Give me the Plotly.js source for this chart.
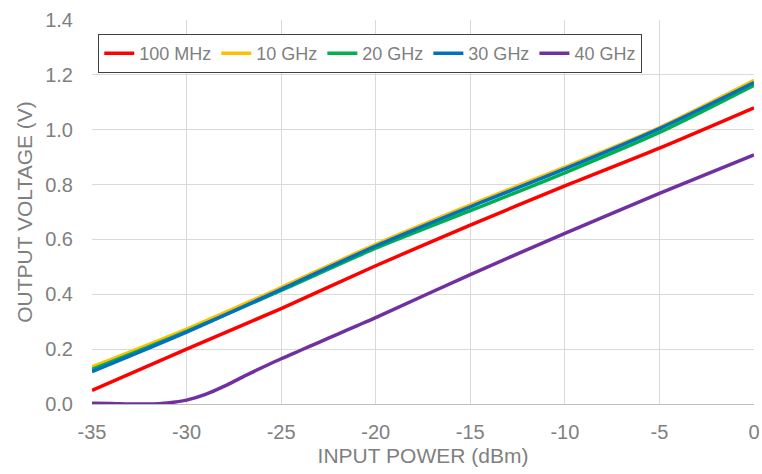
<!DOCTYPE html>
<html>
<head>
<meta charset="utf-8">
<script src="https://cdn.plot.ly/plotly-3.0.1.min.js"></script>
<style>html,body{margin:0;padding:0;background:#fff;}#chart{width:762px;height:474px;}</style>
</head>
<body>
<div id="chart"></div>
<script>
var inputPower = [-35, -30, -25, -20, -15, -10, -5, 0];
var v100MHz = [0.050, 0.200, 0.348, 0.504, 0.652, 0.795, 0.933, 1.080];
var v10GHz  = [0.135, 0.273, 0.425, 0.582, 0.726, 0.864, 1.008, 1.180];
var v20GHz  = [0.126, 0.265, 0.414, 0.568, 0.705, 0.843, 0.990, 1.162];
var v30GHz  = [0.118, 0.262, 0.418, 0.576, 0.719, 0.857, 1.004, 1.172];
var inputPower40 = [-35, -34, -33, -32, -31, -30, -29, -28, -27, -26, -25, -24, -23, -22, -21, -20, -15, -10, -5, 0];
var v40GHz = [0.003, 0.002, 0.000, 0.000, 0.004, 0.014, 0.035, 0.065, 0.100, 0.133, 0.165, 0.195, 0.225, 0.255, 0.285, 0.315, 0.472, 0.622, 0.768, 0.908];
var seriesNames = ['100 MHz', '10 GHz', '20 GHz', '30 GHz', '40 GHz'];
var seriesColors = ['#FF0000', '#FFC000', '#00B050', '#0070C0', '#7030A0'];
var xTickVals = [-35, -30, -25, -20, -15, -10, -5, 0];
var xTickText = ['-35', '-30', '-25', '-20', '-15', '-10', '-5', '0'];

var xs = [inputPower, inputPower, inputPower, inputPower, inputPower40];
var ys = [v100MHz, v10GHz, v20GHz, v30GHz, v40GHz];
var traces = ys.map(function (y, i) {
  return {
    x: xs[i], y: y, name: seriesNames[i], type: 'scatter', mode: 'lines',
    line: {color: seriesColors[i], width: 3.5, shape: 'spline', smoothing: 0.8}
  };
});

var font = 'Liberation Sans, Arial, sans-serif';
var gray = '#7f7f7f';
var layout = {
  width: 762, height: 474,
  margin: {l: 92, r: 8, t: 20, b: 70},
  paper_bgcolor: '#ffffff', plot_bgcolor: '#ffffff',
  font: {family: font, size: 20, color: gray},
  showlegend: true,
  legend: {
    orientation: 'h', x: 0.009, y: 0.964, xanchor: 'left', yanchor: 'top',
    bgcolor: '#ffffff', bordercolor: '#404040', borderwidth: 1.3,
    font: {family: font, size: 18, color: gray}, itemwidth: 30
  },
  xaxis: {
    range: [-35, 0], tickmode: 'array', tickvals: xTickVals, ticktext: xTickText,
    showgrid: true, gridcolor: '#d9d9d9', gridwidth: 1,
    zeroline: false, showline: true, linecolor: '#bfbfbf', linewidth: 1,
    ticks: '', ticklabelstandoff: 10,
    tickfont: {family: font, size: 20, color: gray},
    title: {text: 'INPUT POWER (dBm)', font: {family: font, size: 21, color: gray}, standoff: 6}
  },
  yaxis: {
    range: [0, 1.4], dtick: 0.2, tick0: 0, tickformat: '.1f', showgrid: true, gridcolor: '#d9d9d9', gridwidth: 1,
    zeroline: false, showline: false,
    ticks: '', ticklabelstandoff: 18,
    tickfont: {family: font, size: 20, color: gray},
    title: {text: 'OUTPUT VOLTAGE (V)', font: {family: font, size: 21, color: gray}, standoff: 6}
  }
};

Plotly.newPlot('chart', traces, layout, {displayModeBar: false, staticPlot: true});
</script>
</body>
</html>
